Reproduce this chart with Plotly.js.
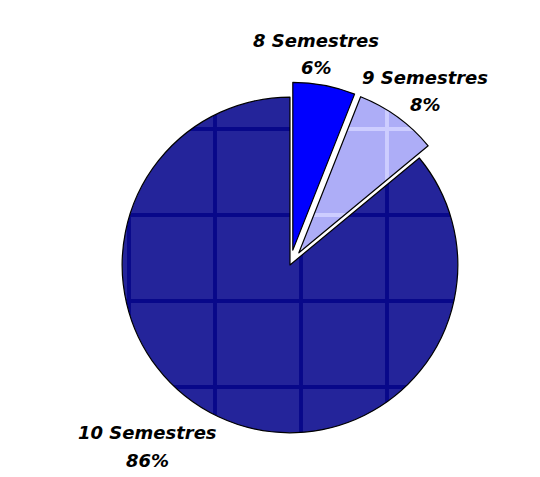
<!DOCTYPE html>
<html>
<head>
<meta charset="utf-8">
<script src="https://cdn.plot.ly/plotly-3.0.1.min.js"></script>
<style>html,body{margin:0;padding:0;background:#fff;}#chart{width:540px;height:477px;}</style>
</head>
<body>
<div id="chart"></div>
<script>
const labels = ["8 Semestres", "9 Semestres", "10 Semestres"];
const values = [6, 8, 86];
const colors = ["#0000FF", "#ADADF7", "#24249A"];
const patternFg = ["#0000FF", "#CDCDFF", "#08088A"];
const pulls = [0.09, 0.09, 0];

const total = values.reduce((a, b) => a + b, 0);
const pctText = values.map(v => Math.round(v / total * 100) + "%");

const trace = {
  type: "pie",
  labels: labels,
  values: values,
  sort: false,
  direction: "clockwise",
  rotation: 0,
  pull: pulls,
  textinfo: "none",
  textposition: "none",
  marker: {
    colors: colors,
    line: {color: "#000", width: 1.2},
    pattern: {shape: ["", "+", "+"], fgcolor: patternFg, bgcolor: colors, size: 86, solidity: 0.09, fillmode: "replace"}
  },
  domain: {x: [0.198, 0.876], y: [0.061, 0.828]},
  automargin: false,
  showlegend: false,
  hoverinfo: "none"
};

// label anchor positions in pixels (centre of each text line)
const labelPos = [[316, 40, 67], [425, 77, 105], [147, 432, 460]];
const W = 540, H = 477;
const font = {family: "DejaVu Sans, sans-serif", size: 18, color: "#000"};
const annotations = [];
labels.forEach((lab, i) => {
  const [px, py1, py2] = labelPos[i];
  annotations.push({text: "<b><i>" + lab + "</i></b>", x: px / W, y: 1 - py1 / H, xref: "paper", yref: "paper",
    xanchor: "center", yanchor: "middle", showarrow: false, font: font});
  annotations.push({text: "<b><i>" + pctText[i] + "</i></b>", x: px / W, y: 1 - py2 / H, xref: "paper", yref: "paper",
    xanchor: "center", yanchor: "middle", showarrow: false, font: font});
});

Plotly.newPlot("chart", [trace], {
  width: W, height: H,
  margin: {l: 0, r: 0, t: 0, b: 0},
  paper_bgcolor: "#fff",
  showlegend: false,
  annotations: annotations
}, {displayModeBar: false, staticPlot: true});
</script>
</body>
</html>
